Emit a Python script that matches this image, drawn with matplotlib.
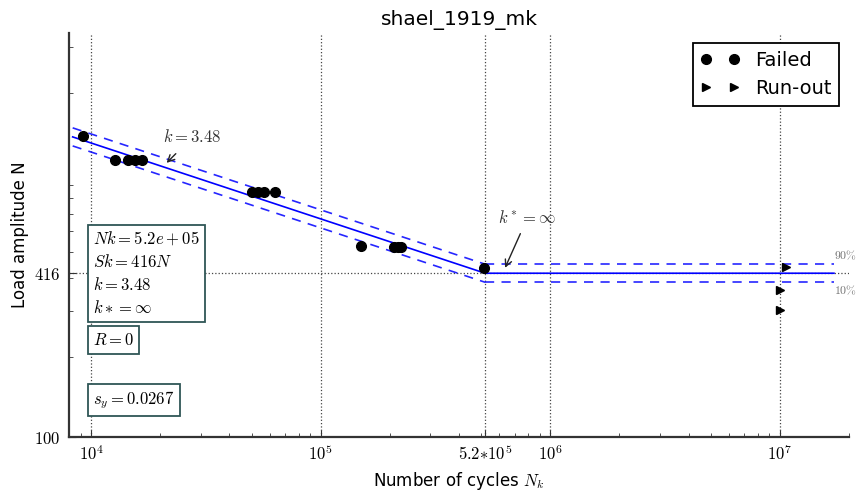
import numpy as np
import matplotlib
matplotlib.use("Agg")
import matplotlib.pyplot as plt

plt.rcParams["mathtext.fontset"] = "cm"
plt.rcParams["font.family"] = ["DejaVu Sans"]

# Test results: failed specimens
failed_cycles = [9230, 12730, 14490, 15550, 16680, 50350, 53500, 56800, 63400,
                 149000, 207500, 216000, 224700, 515000]
failed_load = [1377, 1117, 1117, 1117, 1117, 845, 845, 845, 845,
               528, 523, 523, 523, 436]

# Test results: run-outs
runout_cycles = [1.06e7, 1.0e7, 1.0e7]
runout_load = [439, 359, 302]

# Fitted S-N curve parameters
Nk = 5.2e5
Sk = 416.0
k = 3.48
s_y = 0.0267
curve_range = [8300, 1.72e7]

x_ticks = [1e4, 1e5, 5.2e5, 1e6, 1e7]
x_ticklabels = [r"$10^{4}$", r"$10^{5}$", r"$5.2{*}10^{5}$", r"$10^{6}$", r"$10^{7}$"]
y_ticks = [100, 416]
y_ticklabels = [r"$100$", r"$416$"]

u90 = 1.2816  # standard normal quantile for 10% / 90%
band = 10 ** (u90 * s_y)

fig = plt.figure(figsize=(8.56, 4.95), dpi=100)
ax = fig.add_axes([0.0806, 0.1178, 0.9112, 0.8155])
ax.set_xscale("log")
ax.set_yscale("log")

# sloped part and horizontal part of the curve
n_slope = np.array([curve_range[0], Nk])
s_slope = Sk * (n_slope / Nk) ** (-1.0 / k)
n_flat = np.array([Nk, curve_range[1]])
s_flat = np.array([Sk, Sk])

dash = (0, (5.5, 4.4))
ax.plot(np.r_[n_slope, n_flat[1:]], np.r_[s_slope, s_flat[1:]], color="blue", lw=1.2)
for f in (band, 1.0 / band):
    ax.plot(n_slope, s_slope * f, color="blue", lw=1.2, ls=dash, alpha=0.85)
    ax.plot(n_flat, s_flat * f, color="blue", lw=1.2, ls=dash, alpha=0.85)

ax.plot(failed_cycles, failed_load, "o", color="black", ms=7, label="Failed")
ax.plot(runout_cycles, runout_load, ">", color="black", ms=6, label="Run-out")

ax.text(curve_range[1], Sk * band * 1.02, r"$90\%$", color="#707070", fontsize=8.5,
        ha="left", va="bottom")
ax.text(curve_range[1], Sk / band / 1.02, r"$10\%$", color="#707070", fontsize=8.5,
        ha="left", va="top")

ax.annotate(r"$k=3.48$", xy=(21300, 1089), xytext=(27600, 1365),
            fontsize=12, color="#333333", ha="center", va="center",
            arrowprops=dict(arrowstyle="->", color="#222222", lw=1.0,
                            shrinkA=5, shrinkB=0))
ax.annotate(r"$k^*=\infty$", xy=(635000, 436), xytext=(794000, 673),
            fontsize=12, color="#333333", ha="center", va="center",
            arrowprops=dict(arrowstyle="->", color="#222222", lw=1.0,
                            shrinkA=3, shrinkB=0))

box = dict(boxstyle="square,pad=0.3", facecolor="white", edgecolor="#2f5656", lw=1.3)
ax.text(0.031, 0.512, "$Nk=5.2e+05$\n$Sk=416N$\n$k=3.48$\n$k*=\\infty$",
        transform=ax.transAxes, fontsize=12, ha="left", va="top",
        linespacing=1.35, bbox=box)
ax.text(0.031, 0.262, r"$R=0$", transform=ax.transAxes, fontsize=12,
        ha="left", va="top", bbox=box)
ax.text(0.031, 0.118, r"$s_y=0.0267$", transform=ax.transAxes, fontsize=12,
        ha="left", va="top", bbox=box)

ax.set_xlim(8000, 2.0e7)
ax.set_ylim(100, 3380)
ax.set_xticks(x_ticks)
ax.set_xticklabels(x_ticklabels, fontsize=12)
ax.set_yticks(y_ticks)
ax.set_yticklabels(y_ticklabels, fontsize=12)
ax.tick_params(which="both", direction="in", color="#333333")
ax.tick_params(which="major", length=5, pad=6)
ax.tick_params(which="minor", length=3)
ax.grid(True, which="major", ls=":", color="#444444", lw=0.9)

for side in ("top", "right"):
    ax.spines[side].set_visible(False)
for side in ("left", "bottom"):
    ax.spines[side].set_linewidth(1.6)
    ax.spines[side].set_color("#333333")

ax.set_title("shael_1919_mk", fontsize=14.5)
ax.set_xlabel(r"Number of cycles $N_k$", fontsize=12)
ax.set_ylabel("Load amplitude N", fontsize=12)

leg = ax.legend(loc="upper right", numpoints=2, fontsize=14, fancybox=False,
                framealpha=1, edgecolor="black", handlelength=2.0,
                borderaxespad=0.5)
leg.get_frame().set_linewidth(1.3)

fig.savefig("out.png", dpi=100)
